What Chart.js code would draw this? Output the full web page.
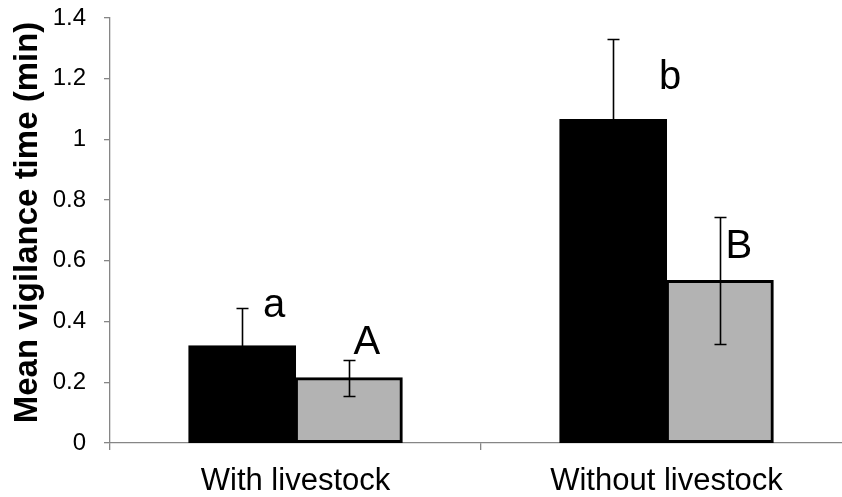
<!DOCTYPE html>
<html>
<head>
<meta charset="utf-8">
<script src="https://cdn.jsdelivr.net/npm/chart.js@4/dist/chart.umd.min.js"></script>
<style>
  html, body { margin: 0; padding: 0; background: #fff; overflow: hidden; }
  #wrap { width: 860px; height: 497px; position: relative; }
</style>
</head>
<body>
<div id="wrap"><canvas id="c"></canvas></div>
<script>
// ---- data ----
const categories = ['With livestock', 'Without livestock'];
const blackValues = [0.32, 1.065];
const greyValues = [0.215, 0.535];
const blackErrors = [0.125, 0.265];
const greyErrors = [0.06, 0.21];
const blackLetters = ['a', 'b'];
const greyLetters = ['A', 'B'];
const yTickValues = [0, 0.2, 0.4, 0.6, 0.8, 1, 1.2, 1.4];
const yTitle = 'Mean vigilance time (min)';

const FONT = '"Liberation Sans", Arial, sans-serif';

const errorBarPlugin = {
  id: 'errorBars',
  afterDatasetsDraw(chart, args, opts) {
    const ctx = chart.ctx;
    const y = chart.scales.y;
    ctx.save();
    chart.data.datasets.forEach((ds, di) => {
      const meta = chart.getDatasetMeta(di);
      const errs = ds.errors || [];
      meta.data.forEach((bar, i) => {
        const v = ds.data[i];
        const e = errs[i];
        if (e == null) return;
        const x = Math.round(bar.x) + 0.5;
        const yt = Math.round(y.getPixelForValue(v + e)) + 0.5;
        const yb = Math.round(y.getPixelForValue(v - e)) + 0.5;
        ctx.strokeStyle = '#000';
        ctx.lineWidth = 1.6;
        ctx.beginPath();
        ctx.moveTo(x, yt); ctx.lineTo(x, yb);
        ctx.moveTo(x - 6, yt); ctx.lineTo(x + 6, yt);
        ctx.moveTo(x - 6, yb); ctx.lineTo(x + 6, yb);
        ctx.stroke();
      });
    });
    // letters
    ctx.fillStyle = '#000';
    ctx.font = '40px ' + FONT;
    ctx.textAlign = 'center';
    ctx.textBaseline = 'middle';
    chart.data.datasets.forEach((ds, di) => {
      const meta = chart.getDatasetMeta(di);
      (ds.letters || []).forEach((t, i) => {
        const bar = meta.data[i];
        const top = y.getPixelForValue(ds.data[i] + ds.errors[i]);
        const off = opts.offsets[di][i];
        ctx.fillText(t, bar.x + off[0], top + off[1]);
      });
    });
    // y axis title
    const ca = chart.chartArea;
    ctx.save();
    ctx.translate(opts.titleX, (ca.top + ca.bottom) / 2 + opts.titleShift);
    ctx.rotate(-Math.PI / 2);
    ctx.font = 'bold 33px ' + FONT;
    ctx.fillText(yTitle, 0, 0);
    ctx.restore();
    ctx.restore();
  }
};

new Chart(document.getElementById('c'), {
  type: 'bar',
  data: {
    labels: categories,
    datasets: [
      {
        data: blackValues, errors: blackErrors, letters: blackLetters,
        backgroundColor: '#000000', borderColor: '#000000', borderWidth: 3,
        borderSkipped: false, inflateAmount: 0.6, categoryPercentage: 0.575, barPercentage: 1.0
      },
      {
        data: greyValues, errors: greyErrors, letters: greyLetters,
        backgroundColor: '#b3b3b3', borderColor: '#000000', borderWidth: 3,
        borderSkipped: false, inflateAmount: 0.6, categoryPercentage: 0.575, barPercentage: 1.0
      }
    ]
  },
  options: {
    responsive: true,
    maintainAspectRatio: false,
    animation: false,
    devicePixelRatio: 1,
    layout: { padding: { top: 18, right: 8, bottom: 0, left: 0 } },
    plugins: {
      legend: { display: false },
      tooltip: { enabled: false },
      errorBars: { offsets: [[[32, -2], [57, 39]], [[18, -17], [19, 30]]], titleX: 28, titleShift: -8 }
    },
    scales: {
      x: {
        grid: { display: true, drawOnChartArea: false, drawTicks: true, tickLength: 7, color: '#868686', lineWidth: 1.3, offset: true },
        border: { display: true, color: '#868686', width: 1.3 },
        ticks: { color: '#000', font: { family: FONT, size: 31 }, padding: 13, maxRotation: 0 },
        afterFit(s) { s.height = 54; s.paddingLeft = 0; s.paddingRight = 0; }
      },
      y: {
        min: 0, max: 1.4,
        afterBuildTicks(s) { s.ticks = yTickValues.map(v => ({ value: v })); },
        grid: { display: true, drawOnChartArea: false, drawTicks: true, tickLength: 6, color: '#868686', lineWidth: 1.3 },
        border: { display: true, color: '#868686', width: 1.3 },
        ticks: { color: '#000', font: { family: FONT, size: 24 }, padding: 18,
                 callback: (v) => String(v) },
        afterFit(s) { s.width = 110; s.paddingTop = 0; s.paddingBottom = 0; }
      }
    }
  },
  plugins: [errorBarPlugin]
});
</script>
</body>
</html>
